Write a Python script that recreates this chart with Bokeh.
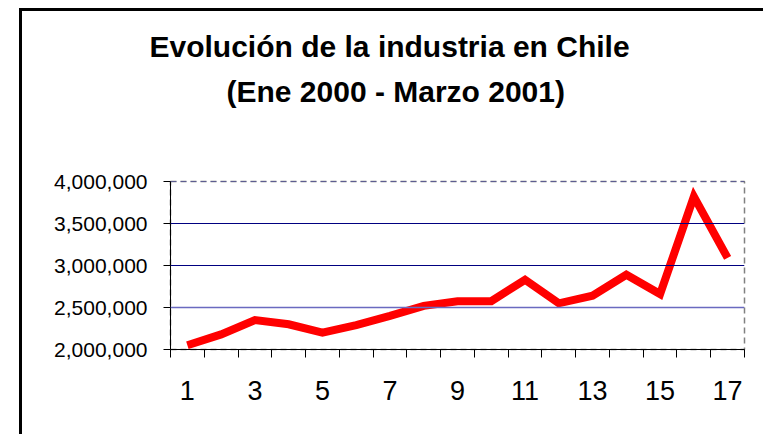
from bokeh.plotting import figure
from bokeh.models import (FixedTicker, NumeralTickFormatter, Range1d, Span, Title)
from bokeh.embed import file_html
from bokeh.resources import INLINE

months = list(range(1, 18))
values = [2050000, 2180000, 2350000, 2300000, 2200000, 2290000, 2400000,
          2520000, 2575000, 2575000, 2830000, 2550000, 2640000, 2890000,
          2660000, 3820000, 3090000]
y_ticks = [2000000, 2500000, 3000000, 3500000, 4000000]
x_labels = [1, 3, 5, 7, 9, 11, 13, 15, 17]
title1 = "Evolución de la industria en Chile"
title2 = "(Ene 2000  - Marzo 2001)"

FONT = "Liberation Sans"

p = figure(width=763, height=434, output_backend="svg", toolbar_location=None,
           x_range=Range1d(0.5, 17.5), y_range=Range1d(2000000, 4000000),
           min_border_left=170, min_border_right=19, min_border_bottom=85,
           min_border_top=0)
p.title = None
p.border_fill_color = None
p.background_fill_color = "#ffffff"

# outer chart frame (left and top edges visible in the window)
p.styles = {
    "background-image": "linear-gradient(#000,#000), linear-gradient(#000,#000)",
    "background-size": "3px 100%, 100% 3px",
    "background-position": "19px 8px, 19px 8px",
    "background-repeat": "no-repeat",
}

# titles, stacked from the plot frame outward (blank ones are spacers)
p.add_layout(Title(text=" ", text_font_size="1px", standoff=66), "above")
p.add_layout(Title(text=title2, align="left", offset=56, standoff=10,
                   text_font=FONT, text_font_size="30px", text_font_style="bold",
                   text_color="#000000"), "above")
p.add_layout(Title(text=title1, align="left", offset=-21, standoff=10,
                   text_font=FONT, text_font_size="30px", text_font_style="bold",
                   text_color="#000000"), "above")
p.add_layout(Title(text=" ", text_font_size="1px", standoff=19), "above")

p.line(months, values, line_color="#ff0000", line_width=8, line_join="miter")

# grid
p.xgrid.visible = False
p.ygrid.visible = False
p.add_layout(Span(location=y_ticks[1], dimension="width", line_color="#6a6ac0", line_width=1.5))
p.add_layout(Span(location=y_ticks[2], dimension="width", line_color="#000080", line_width=1))
p.add_layout(Span(location=y_ticks[3], dimension="width", line_color="#000080", line_width=1))
p.add_layout(Span(location=y_ticks[4], dimension="width", line_color="#3a3aa0", line_width=1,
                  line_dash="6 4"))

p.outline_line_color = "#808080"
p.outline_line_width = 1.5
p.outline_line_dash = "6 4"

# axes
p.yaxis.ticker = FixedTicker(ticks=y_ticks)
p.yaxis.formatter = NumeralTickFormatter(format="0,0")
p.yaxis.major_label_text_font = FONT
p.yaxis.major_label_text_font_size = "21px"
p.yaxis.major_label_text_color = "#000000"
p.yaxis.major_tick_out = 7
p.yaxis.major_tick_in = 0
p.yaxis.minor_tick_line_color = None
p.yaxis.major_label_standoff = 16
p.yaxis.axis_line_color = "#000000"
p.yaxis.major_tick_line_color = "#000000"

p.xaxis.ticker = FixedTicker(ticks=x_labels, minor_ticks=[m + 0.5 for m in range(0, 18)])
p.xaxis.major_label_text_font = FONT
p.xaxis.major_label_text_font_size = "27px"
p.xaxis.major_label_text_color = "#000000"
p.xaxis.major_tick_out = 0
p.xaxis.major_tick_in = 0
p.xaxis.minor_tick_out = 8
p.xaxis.minor_tick_in = 0
p.xaxis.minor_tick_line_color = "#000000"
p.xaxis.major_label_standoff = 23
p.xaxis.axis_line_color = "#000000"

open("out.html", "w").write(file_html(p, INLINE))
